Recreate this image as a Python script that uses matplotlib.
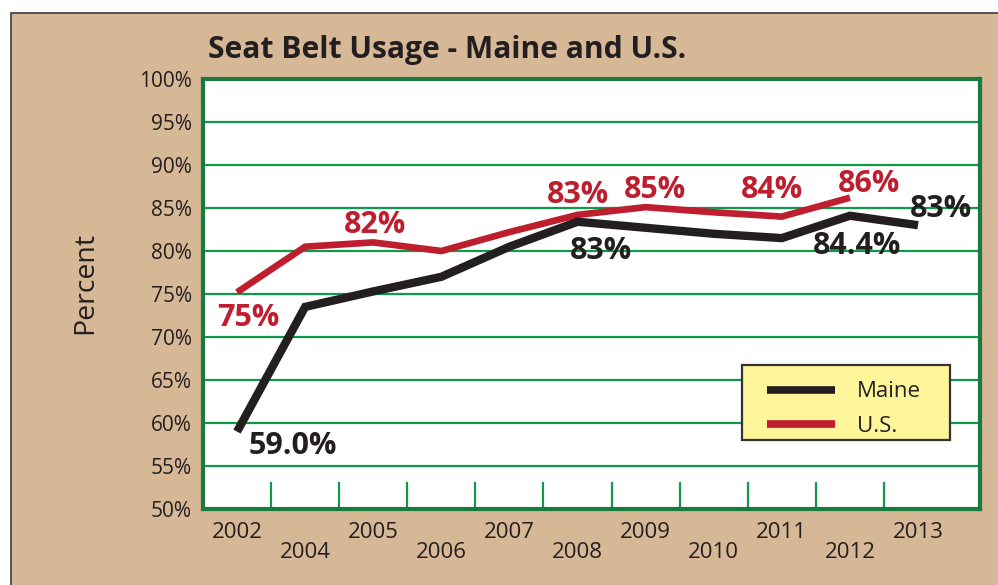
import numpy as np
import matplotlib
matplotlib.use("Agg")
import matplotlib.pyplot as plt
from matplotlib.patches import Rectangle

# ---- data ----
years = ["2002", "2004", "2005", "2006", "2007", "2008", "2009", "2010", "2011", "2012", "2013"]
maine = [59.0, 73.5, 75.3, 77.0, 80.5, 83.4, 82.7, 82.0, 81.5, 84.1, 83.0]
us = [75.2, 80.5, 81.0, 80.0, 82.2, 84.2, 85.1, 84.5, 84.0, 86.2, np.nan]
yticks = [50, 55, 60, 65, 70, 75, 80, 85, 90, 95, 100]

# labels: (index, text)
us_labels = [(0, "75%"), (2, "82%"), (5, "83%"), (6, "85%"), (8, "84%"), (9, "86%")]
maine_labels = [(0, "59.0%"), (5, "83%"), (9, "84.4%"), (10, "83%")]

# ---- style ----
TAN = "#D7B896"
RED = "#BE1E2D"
BLACK = "#231F20"
GRID = "#11994A"
FRAME = "#1B7A40"
FONT = ["Open Sans", "DejaVu Sans"]
plt.rcParams["font.family"] = FONT

fig = plt.figure(figsize=(9.98, 5.85), dpi=100)
fig.patch.set_facecolor("white")
# tan panel with dark top/left edge
bg = Rectangle((11 / 998, -0.1), 1.2, 1 - 13 / 585 + 0.1,
               transform=fig.transFigure, facecolor=TAN,
               edgecolor="#3a3a3a", linewidth=1.2, zorder=-10)
fig.patches.append(bg)

ax = fig.add_axes([203 / 998, 1 - 509 / 585, (980 - 203) / 998, (509 - 79) / 585])
ax.set_zorder(5)
ax.set_facecolor("white")
x = np.arange(len(years))
ax.set_xlim(-0.5, 10.91)
ax.set_ylim(50, 100)

for s in ax.spines.values():
    s.set_color(FRAME)
    s.set_linewidth(3)

for yv in yticks[1:-1]:
    ax.axhline(yv, color=GRID, linewidth=1.6, zorder=1)

ax.set_yticks(yticks)
ax.set_yticklabels([f"{v}%" for v in yticks], fontsize=15, color=BLACK)
ax.tick_params(axis="y", length=0, pad=8)

ax.set_xticks(x)
ax.set_xticklabels(years, fontsize=16, color=BLACK)
ax.tick_params(axis="x", length=0, pad=9.5)
for i, lab in enumerate(ax.get_xticklabels()):
    if i % 2 == 1:
        lab.set_y(-0.045)

# inner green category separator ticks
ax.set_xticks(np.arange(0.5, 10.0, 1.0), minor=True)
ax.tick_params(axis="x", which="minor", direction="in", length=19.5, width=1.6,
               color=GRID, bottom=True)

ax.plot(x, us, color=RED, linewidth=4.8, solid_capstyle="butt", solid_joinstyle="miter",
        zorder=3, label="U.S.")
ax.plot(x, maine, color=BLACK, linewidth=6.0, solid_capstyle="butt", solid_joinstyle="miter",
        zorder=4, label="Maine")

us_off = [(11, -26), (2, 17), (0, 20), (9, 17), (-10, 27), (19, 14)]
maine_off = [(56, -14), (23, -29), (7, -30), (23, 16)]
for (i, t), (dx, dy) in zip(us_labels, us_off):
    ax.annotate(t, (x[i], us[i]), xytext=(dx, dy), textcoords="offset pixels",
                ha="center", va="center", fontsize=22, fontweight="bold",
                color=RED, zorder=5)
for (i, t), (dx, dy) in zip(maine_labels, maine_off):
    ax.annotate(t, (x[i], maine[i]), xytext=(dx, dy), textcoords="offset pixels",
                ha="center", va="center", fontsize=22, fontweight="bold",
                color=BLACK, zorder=5)

ax.set_ylabel("Percent", fontsize=20.5, color=BLACK)
ax.yaxis.set_label_coords(-0.134, 0.526)

# legend: yellow box drawn behind a frameless legend
ax.add_patch(Rectangle((742 / 998, 1 - 440 / 585), (950 - 742) / 998, (440 - 365) / 585,
                       transform=fig.transFigure, facecolor="#FFF59A",
                       edgecolor="#333333", linewidth=1.6, zorder=6, clip_on=False))
handles, labels = ax.get_legend_handles_labels()
leg = ax.legend(handles[::-1], labels[::-1], loc="center left",
                bbox_to_anchor=(767 / 998, 1 - 409 / 585), bbox_transform=fig.transFigure,
                fontsize=16, frameon=False, handlelength=3.06, handletextpad=1.0,
                labelspacing=0.6, borderpad=0, borderaxespad=0)
leg.set_zorder(7)
for h in leg.get_lines():
    h.set_linewidth(5.5)
for t in leg.get_texts():
    t.set_color(BLACK)

fig.text(208 / 998, 1 - 58 / 585, "Seat Belt Usage - Maine and U.S.", fontsize=21.6,
         fontweight="bold", color=BLACK, va="baseline", ha="left")

fig.savefig("out.png", dpi=100, facecolor=fig.get_facecolor())
